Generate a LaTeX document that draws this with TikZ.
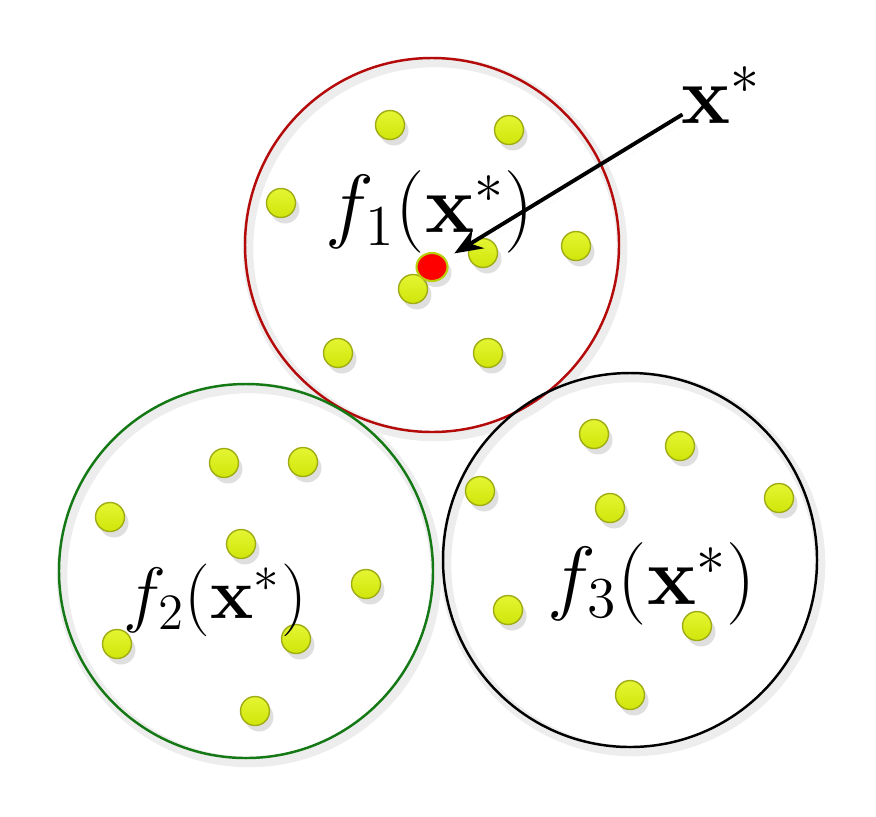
\documentclass[tikz,border=0pt]{standalone}
\usepackage{fix-cm}
\usepackage{amsmath}
\usetikzlibrary{shadows}
\usetikzlibrary{shapes.geometric}
\usetikzlibrary{positioning}
\usetikzlibrary{calc}
\usetikzlibrary{arrows.meta}

\definecolor{seedfill}{RGB}{208,230,10}
\definecolor{seedtop}{RGB}{228,245,50}
\definecolor{seededge}{RGB}{160,172,20}
\definecolor{ringred}{RGB}{180,10,10}
\definecolor{ringgreen}{RGB}{20,120,20}

\tikzset{
  seed/.style={circle, draw=seededge, line width=0.4pt, top color=seedtop, bottom color=seedfill,
    minimum size=0.29cm, inner sep=0pt,
    drop shadow={opacity=0.25, shadow xshift=0.04cm, shadow yshift=-0.06cm}},
  ring/.style={circle, minimum size=3.74cm, inner sep=0pt, line width=0.7pt},
  halo/.style={draw=black!7, line width=3pt},
  tag/.style={inner sep=0pt, font=\fontsize{23.5}{28}\selectfont}
}

\begin{document}
\begin{tikzpicture}
  \useasboundingbox (0,0) rectangle (8.76,8.16);

  % faint shadows of the three regions
  \draw[halo] (4.35,5.67) circle (1.87);
  \draw[halo] (2.49,2.41) circle (1.87);
  \draw[halo] (6.33,2.52) circle (1.87);

  \node[ring, draw=ringred] (c1) at (4.32,5.71) {};
  \node[ring, draw=ringgreen] (c2) at (2.46,2.45) {};
  \node[ring, draw=black] (c3) at (6.30,2.56) {};

  \foreach \p [count=\i] in {(3.90,6.91), (5.09,6.86), (2.81,6.13), (5.76,5.70),
                             (4.83,5.63), (4.13,5.27), (3.38,4.63), (4.88,4.63)} {
    \node[seed] (a\i) at \p {};
  }
  \foreach \p [count=\i] in {(2.24,3.53), (3.03,3.54), (1.10,2.99), (2.41,2.72),
                             (3.66,2.32), (1.17,1.72), (2.96,1.77), (2.55,1.05)} {
    \node[seed] (b\i) at \p {};
  }
  \foreach \p [count=\i] in {(5.94,3.82), (6.80,3.70), (4.80,3.25), (7.79,3.18),
                             (6.10,3.08), (5.08,2.06), (6.97,1.90), (6.30,1.21)} {
    \node[seed] (d\i) at \p {};
  }

  \node[ellipse, draw=seedfill!90!black, fill=red, line width=0.6pt, minimum width=0.31cm,
    minimum height=0.28cm, inner sep=0pt,
    drop shadow={opacity=0.25, shadow xshift=0.04cm, shadow yshift=-0.06cm}] (target) at (4.32,5.49) {};

  \node[tag] (f1) at (4.30,6.04) {$f_1(\mathbf{x}^*)$};
  \node[tag, font=\fontsize{20.7}{25}\selectfont] (f2) at (2.15,2.16) {$f_2(\mathbf{x}^*)$};
  \node[tag] (f3) at (6.52,2.32) {$f_3(\mathbf{x}^*)$};
  \node[tag] (xstar) at (7.21,7.21) {$\mathbf{x}^*$};

  \draw[-{Stealth[length=0.28cm, width=0.22cm]}, line width=1.1pt, shorten >=0.1cm,
    drop shadow={opacity=0.2, shadow xshift=0.04cm, shadow yshift=-0.06cm}]
    ($(xstar.base west)+(0.02,0.09)$) -- (target);

\end{tikzpicture}
\end{document}
